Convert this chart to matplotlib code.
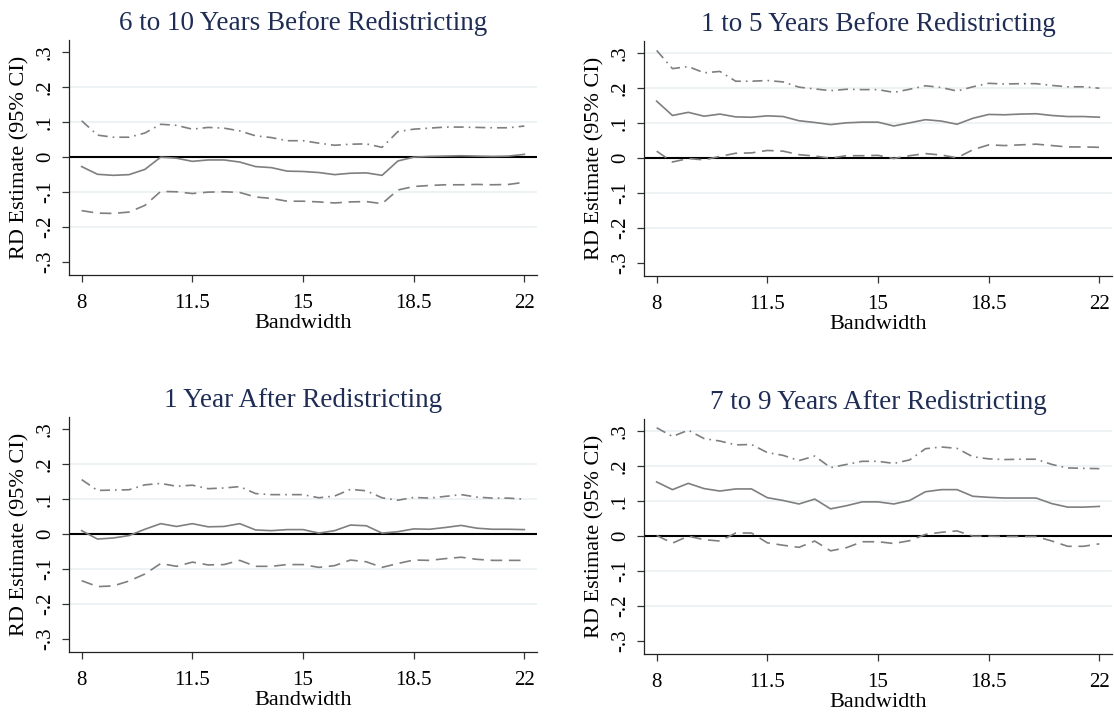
import matplotlib.pyplot as plt
import numpy as np

plt.rcParams['font.family'] = ['Liberation Serif', 'DejaVu Serif']

bandwidth = np.arange(8, 22.01, 0.5)

titles = ['6 to 10 Years Before Redistricting', '1 to 5 Years Before Redistricting',
          '1 Year After Redistricting', '7 to 9 Years After Redistricting']

# panel 1: 6 to 10 years before
est1 = [-0.027, -0.049, -0.052, -0.050, -0.035, 0.000, -0.003, -0.012, -0.008, -0.008,
        -0.014, -0.027, -0.030, -0.040, -0.041, -0.044, -0.050, -0.046, -0.045, -0.052,
        -0.011, 0.000, 0.002, 0.003, 0.004, 0.003, 0.002, 0.003, 0.008]
hi1 = [0.104, 0.063, 0.057, 0.057, 0.069, 0.094, 0.091, 0.080, 0.085, 0.083,
       0.075, 0.061, 0.056, 0.047, 0.047, 0.040, 0.034, 0.037, 0.038, 0.028,
       0.073, 0.080, 0.083, 0.086, 0.086, 0.085, 0.084, 0.084, 0.089]
lo1 = [-0.153, -0.160, -0.161, -0.157, -0.138, -0.098, -0.099, -0.104, -0.100, -0.099,
       -0.101, -0.114, -0.118, -0.126, -0.126, -0.128, -0.131, -0.128, -0.127, -0.133,
       -0.094, -0.084, -0.081, -0.079, -0.079, -0.078, -0.079, -0.078, -0.072]

# panel 2: 1 to 5 years before
est2 = [0.163, 0.122, 0.131, 0.120, 0.126, 0.118, 0.117, 0.121, 0.119, 0.107,
        0.102, 0.096, 0.101, 0.103, 0.103, 0.092, 0.101, 0.110, 0.106, 0.097,
        0.114, 0.125, 0.124, 0.126, 0.127, 0.122, 0.119, 0.119, 0.117]
hi2 = [0.308, 0.256, 0.262, 0.244, 0.248, 0.220, 0.220, 0.222, 0.218, 0.203,
       0.198, 0.193, 0.197, 0.196, 0.196, 0.188, 0.197, 0.207, 0.202, 0.192,
       0.204, 0.214, 0.212, 0.213, 0.213, 0.208, 0.204, 0.204, 0.200]
lo2 = [0.020, -0.011, -0.001, -0.005, 0.005, 0.014, 0.015, 0.022, 0.020, 0.010,
       0.006, 0.000, 0.007, 0.007, 0.008, -0.001, 0.007, 0.013, 0.009, 0.001,
       0.024, 0.038, 0.036, 0.038, 0.040, 0.036, 0.032, 0.032, 0.031]

# panel 3: 1 year after
est3 = [0.010, -0.014, -0.011, -0.004, 0.014, 0.030, 0.022, 0.030, 0.021, 0.022,
        0.030, 0.012, 0.010, 0.013, 0.013, 0.003, 0.010, 0.026, 0.024, 0.003,
        0.007, 0.015, 0.014, 0.019, 0.025, 0.017, 0.014, 0.014, 0.013]
hi3 = [0.156, 0.125, 0.126, 0.127, 0.141, 0.145, 0.137, 0.140, 0.130, 0.132,
       0.136, 0.116, 0.113, 0.113, 0.113, 0.104, 0.109, 0.128, 0.124, 0.104,
       0.097, 0.105, 0.103, 0.108, 0.113, 0.106, 0.103, 0.103, 0.100]
lo3 = [-0.133, -0.150, -0.148, -0.134, -0.114, -0.084, -0.092, -0.080, -0.088, -0.087,
       -0.075, -0.092, -0.092, -0.087, -0.087, -0.095, -0.090, -0.074, -0.079, -0.095,
       -0.084, -0.074, -0.075, -0.070, -0.066, -0.072, -0.075, -0.075, -0.075]

# panel 4: 7 to 9 years after
est4 = [0.155, 0.133, 0.151, 0.136, 0.129, 0.135, 0.135, 0.110, 0.102, 0.092,
        0.106, 0.078, 0.087, 0.098, 0.098, 0.092, 0.102, 0.127, 0.133, 0.133,
        0.114, 0.111, 0.109, 0.109, 0.109, 0.093, 0.083, 0.083, 0.085]
hi4 = [0.310, 0.285, 0.303, 0.279, 0.272, 0.261, 0.262, 0.239, 0.231, 0.216,
       0.229, 0.196, 0.205, 0.214, 0.214, 0.208, 0.218, 0.250, 0.255, 0.251,
       0.227, 0.221, 0.219, 0.220, 0.220, 0.205, 0.195, 0.194, 0.193]
lo4 = [0.002, -0.020, 0.000, -0.010, -0.014, 0.009, 0.009, -0.019, -0.026, -0.032,
       -0.014, -0.042, -0.033, -0.016, -0.016, -0.021, -0.013, 0.005, 0.011, 0.015,
       0.000, 0.000, -0.001, -0.001, -0.001, -0.014, -0.029, -0.029, -0.022]

panels = [(est1, hi1, lo1), (est2, hi2, lo2), (est3, hi3, lo3), (est4, hi4, lo4)]

yticks = [-0.3, -0.2, -0.1, 0, 0.1, 0.2, 0.3]
ytick_labels = ['-.3', '-.2', '-.1', '0', '.1', '.2', '.3']
xticks = [8, 11.5, 15, 18.5, 22]
xtick_labels = ['8', '11.5', '15', '18.5', '22']

# faint gridlines (the left panels show none at +/-.3)
grid_left = [-0.2, -0.1, 0.1, 0.2]
grid_right = [-0.2, -0.1, 0.1, 0.2, 0.3]

W, H = 1114, 712
fig = plt.figure(figsize=(W / 100, H / 100), dpi=100)

# left, top in pixels
boxes = [(69, 40), (644, 41), (69, 417), (644, 419)]
aw, ah = 468, 235

line_col = '#7f7f7f'
for k, (left, top) in enumerate(boxes):
    ax = fig.add_axes([left / W, (H - top - ah) / H, aw / W, ah / H])
    est, hi, lo = panels[k]
    for y in (grid_left if k % 2 == 0 else grid_right):
        ax.axhline(y, color='#edf3f5', lw=1.4, zorder=0)
    ax.axhline(0, color='black', lw=1.5, zorder=2)
    ax.plot(bandwidth, est, color=line_col, lw=1.2, zorder=3)
    ax.plot(bandwidth, hi, color=line_col, lw=1.2, dashes=(6, 3, 1, 3), zorder=3)
    ax.plot(bandwidth, lo, color=line_col, lw=1.2, dashes=(7, 4), zorder=3)
    ax.set_xlim(7.6, 22.4)
    ax.set_ylim(-0.337, 0.335)
    ax.set_xticks(xticks)
    ax.set_xticklabels(xtick_labels, fontsize=15)
    ax.set_yticks(yticks)
    ax.set_yticklabels(ytick_labels, fontsize=15, rotation=90, va='center')
    ax.tick_params(length=5, width=0.9, color='#333333')
    ax.tick_params(axis='x', pad=9)
    ax.tick_params(axis='y', pad=5)
    for s in ['top', 'right']:
        ax.spines[s].set_visible(False)
    for s in ['left', 'bottom']:
        ax.spines[s].set_linewidth(0.9)
        ax.spines[s].set_color('#222222')
    ax.set_xlabel('Bandwidth', fontsize=16, va='center')
    ax.xaxis.set_label_coords(0.5, -0.205)
    ax.set_ylabel('RD Estimate (95% CI)', fontsize=16, va='center')
    ax.yaxis.set_label_coords(-0.104, 0.5)
    ax.set_title(titles[k], fontsize=19.5, color='#1f2d55', pad=7)

fig.savefig('out.png', dpi=100)
